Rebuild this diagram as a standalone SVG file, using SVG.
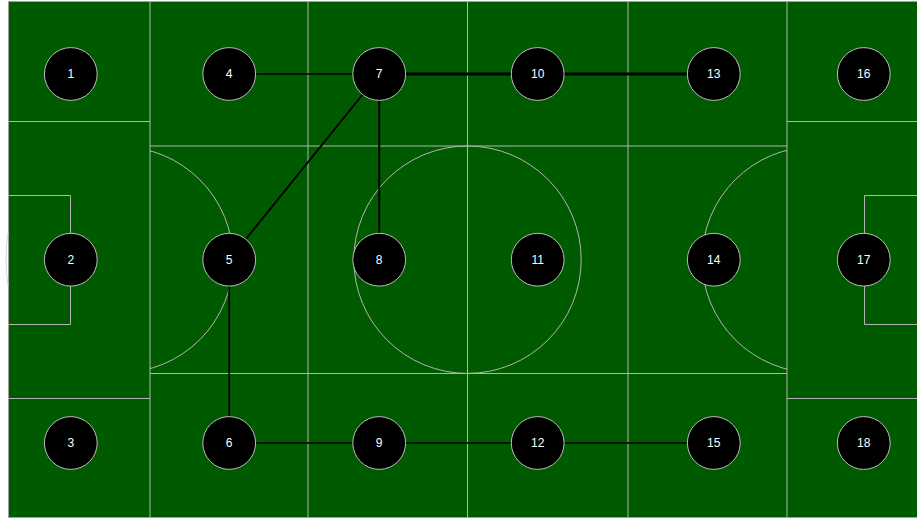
<svg xmlns="http://www.w3.org/2000/svg" width="917" height="521" viewBox="0 0 917 521">
<defs>
<style>
.pitch{fill:none;stroke:#b4b4b4;stroke-width:1}
.edge{stroke:#000;fill:none}
.node circle{fill:#000;stroke:#bdbdbd;stroke-width:1}
.node text{fill:#fff;font-family:"Liberation Sans",Arial,sans-serif;font-size:12px;text-anchor:middle}
</style>
<clipPath id="cl"><rect x="150" y="0" width="100" height="521"/></clipPath>
<clipPath id="cr"><rect x="687" y="0" width="100" height="521"/></clipPath>
</defs>
<rect x="0" y="0" width="917" height="521" fill="#fff"/>
<g id="field">
<rect x="8.5" y="1.5" width="920" height="516" fill="#005a00" stroke="#a0a0a0" stroke-width="1"/>
<line class="pitch" x1="150" y1="1.5" x2="150" y2="517.5"/>
<line class="pitch" x1="308" y1="1.5" x2="308" y2="517.5"/>
<line class="pitch" x1="467.5" y1="1.5" x2="467.5" y2="517.5"/>
<line class="pitch" x1="628" y1="1.5" x2="628" y2="517.5"/>
<line class="pitch" x1="787" y1="1.5" x2="787" y2="517.5"/>
<line class="pitch" x1="8.5" y1="121.5" x2="150" y2="121.5"/>
<line class="pitch" x1="8.5" y1="398.5" x2="150" y2="398.5"/>
<line class="pitch" x1="787" y1="121.5" x2="917" y2="121.5"/>
<line class="pitch" x1="787" y1="398.5" x2="917" y2="398.5"/>
<line class="pitch" x1="150" y1="146" x2="787" y2="146"/>
<line class="pitch" x1="150" y1="373.5" x2="787" y2="373.5"/>
<polyline class="pitch" points="8.5,195.5 70.5,195.5 70.5,324.5 8.5,324.5"/>
<polyline class="pitch" points="917,195.5 864.5,195.5 864.5,324.5 917,324.5"/>
<circle class="pitch" cx="467.5" cy="259.7" r="113.7"/>
<circle class="pitch" cx="120" cy="259.7" r="113" clip-path="url(#cl)"/>
<circle class="pitch" cx="815" cy="259.7" r="113" clip-path="url(#cr)"/>
<path d="M8,233 Q4,259.5 8,286" fill="none" stroke="#d8d8d8" stroke-width="1"/>
</g>
<g id="connectors">
<line class="edge" x1="229.2" y1="74" x2="379.2" y2="74" stroke-width="1.5"/>
<line class="edge" x1="379.2" y1="74" x2="537.7" y2="74" stroke-width="3"/>
<line class="edge" x1="537.7" y1="74" x2="713.8" y2="74" stroke-width="3"/>
<line class="edge" x1="379.2" y1="74" x2="229.2" y2="259.7" stroke-width="1.8"/>
<line class="edge" x1="379.2" y1="74" x2="379.2" y2="259.7" stroke-width="2"/>
<line class="edge" x1="229.2" y1="259.7" x2="229.2" y2="443" stroke-width="1.8"/>
<line class="edge" x1="229.2" y1="443" x2="379.2" y2="443" stroke-width="1.5"/>
<line class="edge" x1="379.2" y1="443" x2="537.7" y2="443" stroke-width="1.5"/>
<line class="edge" x1="537.7" y1="443" x2="713.8" y2="443" stroke-width="1.5"/>
</g>
<g id="n1" class="node"><circle cx="70.8" cy="74" r="26.4"/><text x="70.8" y="78.3">1</text></g>
<g id="n2" class="node"><circle cx="70.8" cy="259.7" r="26.4"/><text x="70.8" y="264">2</text></g>
<g id="n3" class="node"><circle cx="70.8" cy="443" r="26.4"/><text x="70.8" y="447.3">3</text></g>
<g id="n4" class="node"><circle cx="229.2" cy="74" r="26.4"/><text x="229.2" y="78.3">4</text></g>
<g id="n5" class="node"><circle cx="229.2" cy="259.7" r="26.4"/><text x="229.2" y="264">5</text></g>
<g id="n6" class="node"><circle cx="229.2" cy="443" r="26.4"/><text x="229.2" y="447.3">6</text></g>
<g id="n7" class="node"><circle cx="379.2" cy="74" r="26.4"/><text x="379.2" y="78.3">7</text></g>
<g id="n8" class="node"><circle cx="379.2" cy="259.7" r="26.4"/><text x="379.2" y="264">8</text></g>
<g id="n9" class="node"><circle cx="379.2" cy="443" r="26.4"/><text x="379.2" y="447.3">9</text></g>
<g id="n10" class="node"><circle cx="537.7" cy="74" r="26.4"/><text x="537.7" y="78.3">10</text></g>
<g id="n11" class="node"><circle cx="537.7" cy="259.7" r="26.4"/><text x="537.7" y="264">11</text></g>
<g id="n12" class="node"><circle cx="537.7" cy="443" r="26.4"/><text x="537.7" y="447.3">12</text></g>
<g id="n13" class="node"><circle cx="713.8" cy="74" r="26.4"/><text x="713.8" y="78.3">13</text></g>
<g id="n14" class="node"><circle cx="713.8" cy="259.7" r="26.4"/><text x="713.8" y="264">14</text></g>
<g id="n15" class="node"><circle cx="713.8" cy="443" r="26.4"/><text x="713.8" y="447.3">15</text></g>
<g id="n16" class="node"><circle cx="863.8" cy="74" r="26.4"/><text x="863.8" y="78.3">16</text></g>
<g id="n17" class="node"><circle cx="863.8" cy="259.7" r="26.4"/><text x="863.8" y="264">17</text></g>
<g id="n18" class="node"><circle cx="863.8" cy="443" r="26.4"/><text x="863.8" y="447.3">18</text></g>
</svg>
